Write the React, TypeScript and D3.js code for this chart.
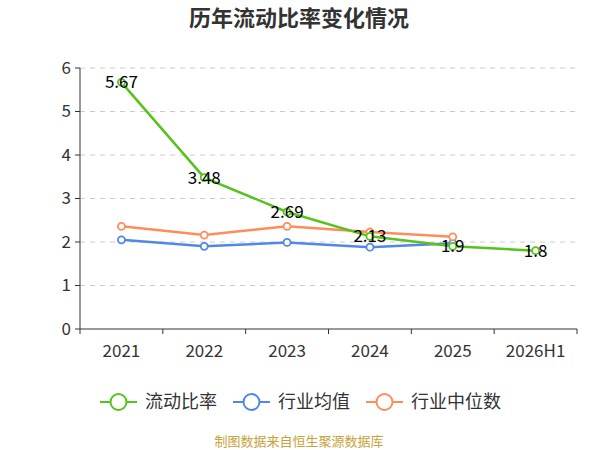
import React from "react"
import * as d3 from "d3"

const categories = ["2021", "2022", "2023", "2024", "2025", "2026H1"]
const currentRatio = [5.67, 3.48, 2.69, 2.13, 1.9, 1.8]
const industryAvg = [2.05, 1.9, 1.99, 1.88, 1.97]
const industryMedian = [2.36, 2.16, 2.36, 2.23, 2.12]
const yTicks = [0, 1, 2, 3, 4, 5, 6]

const seriesNames = ["流动比率", "行业均值", "行业中位数"]
const colors = ["#56c31c", "#5088e8", "#ff8d5c"]

const W = 600
const H = 450
const margin = { top: 68, right: 23, bottom: 121, left: 80 }
const font = '"Noto Sans CJK SC", "Open Sans", sans-serif'

const App = () => {
  const x = d3
    .scaleBand()
    .domain(categories)
    .range([margin.left, W - margin.right])
  const y = d3
    .scaleLinear()
    .domain([0, 6])
    .range([H - margin.bottom, margin.top])

  const cx = (i: number) => x(categories[i])! + x.bandwidth() / 2
  const line = d3
    .line<number>()
    .x((d, i) => cx(i))
    .y((d) => y(d))

  const series = [currentRatio, industryAvg, industryMedian]
  // draw order: avg, median, then ratio on top
  const order = [1, 2, 0]

  const legendX = [100, 233, 366]
  const legendY = 402

  return (
    <svg
      width={W}
      height={H}
      style={{ position: "fixed", left: 0, top: 0, display: "block", fontFamily: font }}
    >
      <rect width={W} height={H} fill="#fff" />
      <text x={299} y={26} textAnchor="middle" fontSize={22} fontWeight="bold" fill="#333">
        历年流动比率变化情况
      </text>

      {/* grid */}
      {yTicks.filter((t) => t > 0).map((t) => (
        <line
          key={t}
          x1={margin.left}
          x2={W - margin.right}
          y1={y(t)}
          y2={y(t)}
          stroke="#ccc"
          strokeDasharray="5,5"
        />
      ))}

      {/* y axis */}
      <line x1={margin.left} x2={margin.left} y1={y(0)} y2={y(6)} stroke="#333" />
      {yTicks.map((t) => (
        <g key={t}>
          <line x1={margin.left - 5} x2={margin.left} y1={y(t)} y2={y(t)} stroke="#333" />
          <text x={margin.left - 9} y={y(t)} dy="0.35em" textAnchor="end" fontSize={17} fill="#333">
            {t}
          </text>
        </g>
      ))}

      {/* x axis */}
      <line x1={margin.left} x2={W - margin.right} y1={y(0)} y2={y(0)} stroke="#333" />
      {categories.map((c, i) => (
        <g key={c}>
          <line x1={x(c)!} x2={x(c)!} y1={y(0)} y2={y(0) + 5} stroke="#333" />
          <text x={cx(i)} y={y(0) + 28} textAnchor="middle" fontSize={17} fill="#333">
            {c}
          </text>
        </g>
      ))}
      <line x1={W - margin.right} x2={W - margin.right} y1={y(0)} y2={y(0) + 5} stroke="#333" />

      {/* lines */}
      {order.map((s) => (
        <g key={s}>
          <path d={line(series[s])!} fill="none" stroke={colors[s]} strokeWidth={2.5} />
          {series[s].map((v, i) => (
            <circle key={i} cx={cx(i)} cy={y(v)} r={3.5} fill="#fff" stroke={colors[s]} strokeWidth={1.8} />
          ))}
        </g>
      ))}

      {/* labels */}
      {currentRatio.map((v, i) => (
        <text key={i} x={cx(i)} y={y(v)} dy="0.35em" textAnchor="middle" fontSize={17} fill="#000">
          {v}
        </text>
      ))}

      {/* legend */}
      {seriesNames.map((n, k) => (
        <g key={n}>
          <line x1={legendX[k]} x2={legendX[k] + 37} y1={legendY} y2={legendY} stroke={colors[k]} strokeWidth={2} />
          <circle cx={legendX[k] + 18.5} cy={legendY} r={8} fill="#fff" stroke={colors[k]} strokeWidth={2} />
          <text x={legendX[k] + 45} y={legendY} dy="0.35em" fontSize={18} fill="#333">
            {n}
          </text>
        </g>
      ))}

      <text x={299} y={441} dy="0.35em" textAnchor="middle" fontSize={13} fill="#c9a23a">
        制图数据来自恒生聚源数据库
      </text>
    </svg>
  )
}

export default App
